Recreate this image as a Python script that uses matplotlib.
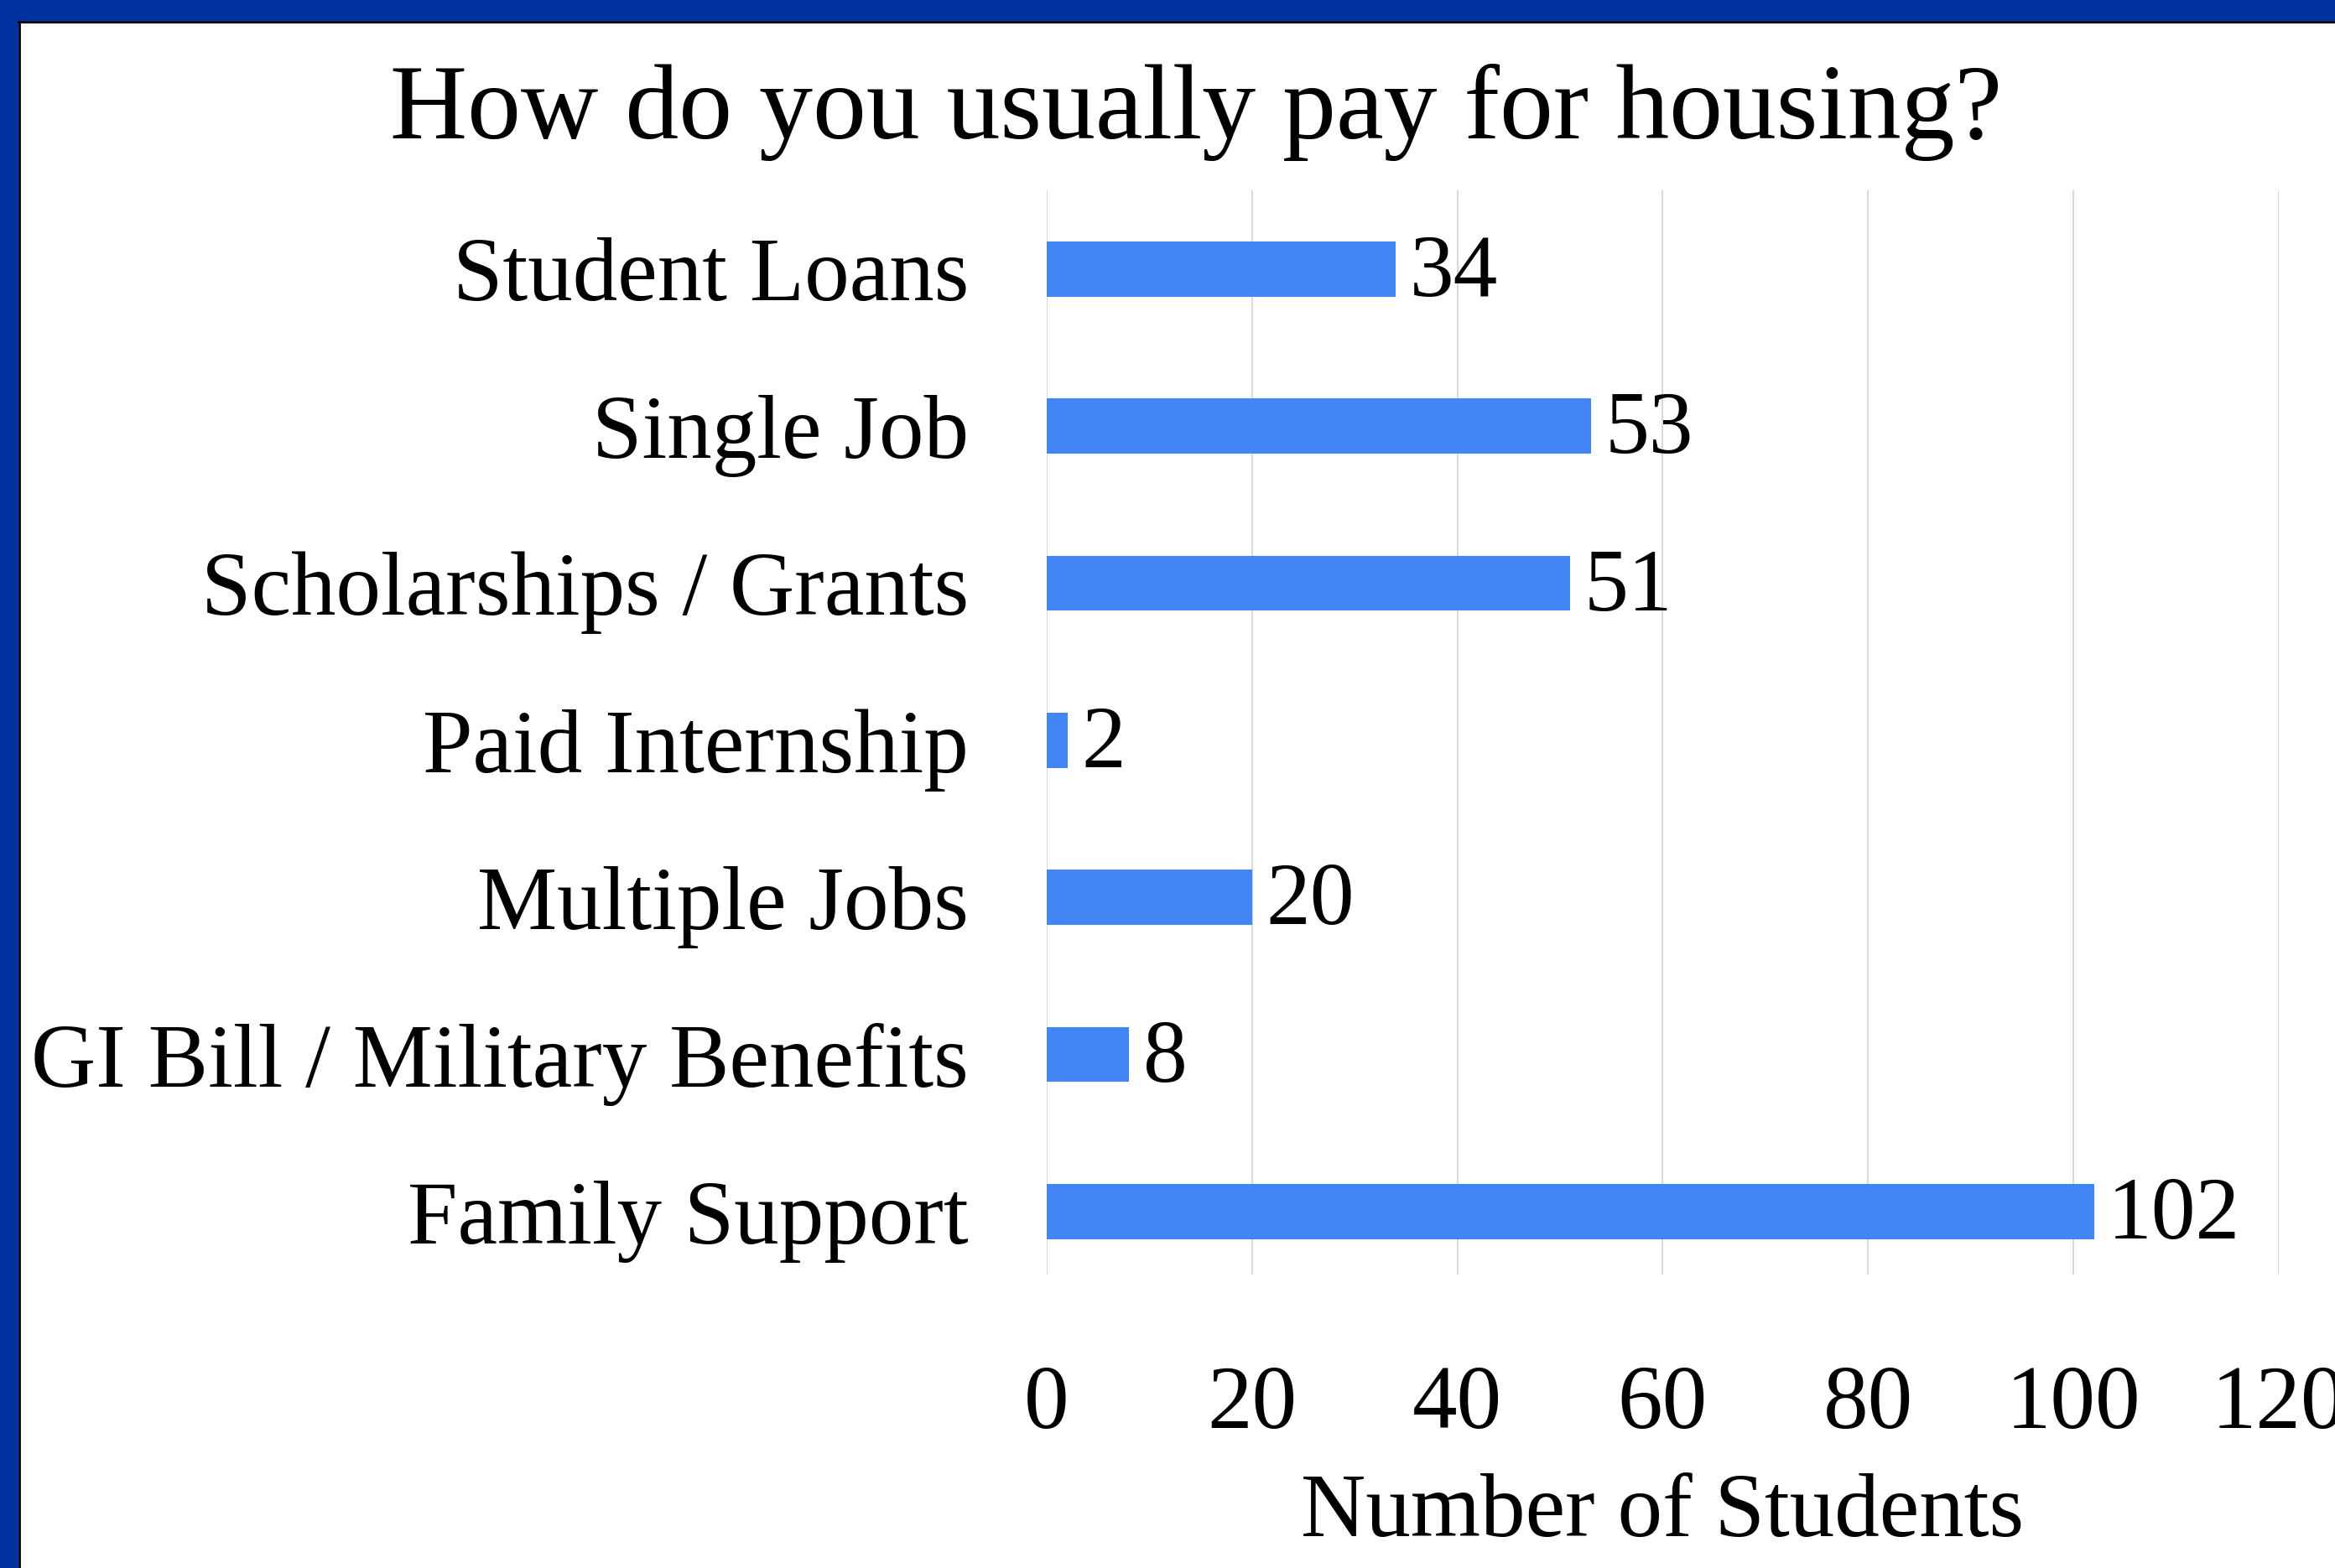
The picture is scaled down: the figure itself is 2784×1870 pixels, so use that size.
import matplotlib.pyplot as plt
from matplotlib.patches import Rectangle

# Survey answers, top to bottom as shown
categories = ["Student Loans", "Single Job", "Scholarships / Grants", "Paid Internship",
              "Multiple Jobs", "GI Bill / Military Benefits", "Family Support"]
counts = [34, 53, 51, 2, 20, 8, 102]
x_ticks = [0, 20, 40, 60, 80, 100, 120]

plt.rcParams['font.family'] = ['Liberation Serif', 'DejaVu Serif']

fig = plt.figure(figsize=(27.84, 18.7), dpi=100)
fig.patch.set_facecolor('white')

# Blue frame on top and left edges (cropped screenshot look)
fig.patches.append(Rectangle((0, 1 - 25 / 1870), 1, 25 / 1870, transform=fig.transFigure,
                             facecolor='#0033A0', edgecolor='none', zorder=0))
fig.patches.append(Rectangle((0, 0), 22 / 2784, 1, transform=fig.transFigure,
                             facecolor='#0033A0', edgecolor='none', zorder=0))
fig.lines.append(plt.Line2D([22 / 2784, 1], [1 - 26 / 1870, 1 - 26 / 1870], transform=fig.transFigure,
                            color='black', lw=2))
fig.lines.append(plt.Line2D([23 / 2784, 23 / 2784], [0, 1 - 26 / 1870], transform=fig.transFigure,
                            color='black', lw=2))

ax = fig.add_axes([0.4483, 0.18717, 0.9759 - 0.4483, 0.8786 - 0.18717])
y = list(range(len(categories)))
bars = ax.barh(y, counts, height=0.35, color='#4285F4', zorder=3)

ax.set_ylim(6.4, -0.5)
ax.set_xlim(0, 120)
ax.set_xticks(x_ticks)
ax.set_yticks(y)
ax.set_yticklabels(categories)
ax.tick_params(axis='x', length=0, pad=78, labelsize=77)
ax.tick_params(axis='y', length=0, pad=67, labelsize=77)
ax.grid(axis='x', color='#D9D9D9', lw=1.5, zorder=0)
for s in ax.spines.values():
    s.set_visible(False)

for b, v in zip(bars, counts):
    ax.annotate(str(v), (v, b.get_y() + b.get_height() / 2), xytext=(12, -5),
                textcoords='offset points', va='center', ha='left', fontsize=76)

ax.set_xlabel("Number of Students", fontsize=77, labelpad=22)
fig.text(1426 / 2784, 1 - 134 / 1870, "How do you usually pay for housing?",
         ha='center', va='center', fontsize=92)

fig.savefig("out.png", dpi=100)
